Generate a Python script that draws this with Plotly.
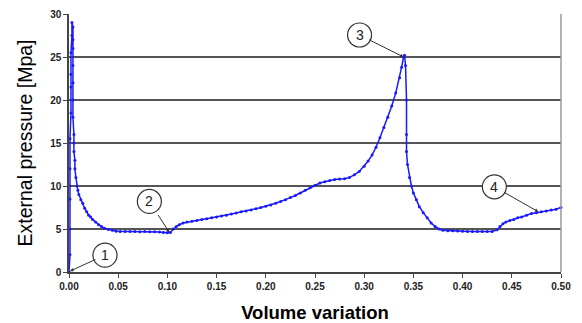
import plotly.graph_objects as go

volume = [0.000, 0.001, 0.001, 0.001, 0.001, 0.001, 0.002, 0.002, 0.002, 0.002, 0.003, 0.003,
          0.004, 0.004, 0.004, 0.004, 0.004, 0.004, 0.004, 0.005, 0.005, 0.005, 0.006, 0.006,
          0.007, 0.008, 0.009, 0.010, 0.012, 0.014, 0.016, 0.018, 0.020, 0.022, 0.024, 0.027,
          0.030, 0.033, 0.036, 0.040, 0.044, 0.048, 0.052, 0.057, 0.062, 0.067, 0.072, 0.077,
          0.082, 0.087, 0.092, 0.096, 0.100, 0.103, 0.106, 0.109, 0.112, 0.116, 0.120, 0.125,
          0.130, 0.135, 0.140, 0.145, 0.150, 0.155, 0.160, 0.165, 0.170, 0.175, 0.180, 0.185,
          0.190, 0.195, 0.200, 0.205, 0.210, 0.215, 0.220, 0.225, 0.230, 0.235, 0.240, 0.245,
          0.250, 0.255, 0.260, 0.265, 0.270, 0.275, 0.280, 0.285, 0.290, 0.295, 0.300, 0.304,
          0.308, 0.312, 0.316, 0.320, 0.324, 0.328, 0.332, 0.336, 0.338, 0.340, 0.341,
          0.342, 0.343, 0.343, 0.343, 0.344, 0.346, 0.348, 0.350, 0.353, 0.356, 0.360, 0.364,
          0.368, 0.372, 0.376, 0.380, 0.385, 0.390, 0.395, 0.400, 0.405, 0.410, 0.415, 0.420,
          0.425, 0.430, 0.435, 0.438, 0.441, 0.444, 0.448, 0.452, 0.456, 0.460, 0.465, 0.470,
          0.475, 0.480, 0.485, 0.490, 0.495, 0.500]
pressure = [0.0, 2.0, 5.0, 8.5, 12.0, 15.5, 18.5, 21.5, 23.0, 25.5, 27.5, 29.0,
            28.5, 27.0, 26.0, 24.0, 22.0, 20.0, 18.0, 16.0, 15.0, 14.0, 13.0, 12.0,
            11.0, 10.0, 9.5, 9.0, 8.4, 8.0, 7.4, 7.0, 6.6, 6.4, 6.1, 5.8,
            5.5, 5.3, 5.1, 4.95, 4.85, 4.75, 4.7, 4.7, 4.7, 4.7, 4.68, 4.7,
            4.68, 4.68, 4.65, 4.6, 4.55, 4.6, 5.0, 5.3, 5.5, 5.7, 5.8, 5.9,
            6.0, 6.1, 6.2, 6.3, 6.4, 6.5, 6.6, 6.75, 6.85, 7.0, 7.1, 7.2,
            7.35, 7.5, 7.65, 7.8, 8.0, 8.2, 8.4, 8.65, 8.9, 9.2, 9.5, 9.8,
            10.1, 10.35, 10.5, 10.65, 10.75, 10.8, 10.85, 11.0, 11.3, 11.7, 12.3, 12.9,
            13.6, 14.5, 15.6, 16.8, 18.0, 19.3, 20.8, 22.6, 23.8, 25.0, 25.2,
            24.0, 20.0, 16.0, 14.0, 12.5, 11.0, 10.0, 9.2, 8.4, 7.6, 6.9, 6.3,
            5.7, 5.3, 5.0, 4.85, 4.8, 4.8, 4.78, 4.75, 4.7, 4.7, 4.7, 4.7,
            4.7, 4.72, 4.9, 5.3, 5.6, 5.8, 6.0, 6.1, 6.3, 6.4, 6.6, 6.8,
            6.9, 7.0, 7.1, 7.2, 7.3, 7.5]

x_ticks = [0.00, 0.05, 0.10, 0.15, 0.20, 0.25, 0.30, 0.35, 0.40, 0.45, 0.50]
y_ticks = [0, 5, 10, 15, 20, 25, 30]

# callouts: label, target point (x, y), offset of circle center in pixels
callout_labels = ["1", "2", "3", "4"]
callout_x = [0.001, 0.102, 0.340, 0.477]
callout_y = [0.1, 4.6, 25.0, 7.0]
callout_dx = [35, -20, -44, -44]
callout_dy = [-16, -31, -22, -25]

fig = go.Figure()
fig.add_trace(go.Scatter(
    x=volume, y=pressure, mode="lines+markers",
    line=dict(color="#1a1aff", width=1.5),
    marker=dict(color="#1a1aff", size=3, symbol="circle"),
    showlegend=False, cliponaxis=False,
))

for lab, px, py, dx, dy in zip(callout_labels, callout_x, callout_y, callout_dx, callout_dy):
    fig.add_shape(type="circle", xref="x", yref="y", xsizemode="pixel", ysizemode="pixel",
                  xanchor=px, yanchor=py,
                  x0=dx - 12, x1=dx + 12, y0=-dy - 12, y1=-dy + 12,
                  line=dict(color="#333333", width=1.2), fillcolor="white", layer="above")
    fig.add_annotation(x=px, y=py, ax=dx, ay=dy, text=lab, showarrow=True,
                       arrowhead=2, arrowsize=0.7, arrowwidth=1, arrowcolor="#333333",
                       font=dict(family="Arial, Liberation Sans", size=14, color="#222"),
                       borderpad=5, standoff=0)

fig.update_layout(
    width=582, height=323,
    margin=dict(l=69, r=21, t=14, b=51),
    paper_bgcolor="white", plot_bgcolor="white",
    font=dict(family="Arial, Liberation Sans", color="black"),
)
fig.update_xaxes(
    range=[0, 0.5], tickvals=x_ticks, tickformat=".2f", automargin=False,
    ticks="outside", ticklen=4, tickcolor="#444",
    showgrid=False, showline=True, linecolor="#444", linewidth=1.5, mirror=False,
    zeroline=False,
    tickfont=dict(size=10, family="Arial, Liberation Sans", color="#222", weight="bold"),
    title=dict(text="<b>Volume variation</b>", font=dict(size=18.5), standoff=15),
)
fig.update_yaxes(
    range=[0, 30], tickvals=y_ticks, automargin=False,
    ticks="outside", ticklen=4, tickcolor="#444",
    showgrid=True, gridcolor="#555", gridwidth=1.5,
    showline=True, linecolor="#444", linewidth=1.5, zeroline=False,
    tickfont=dict(size=10, family="Arial, Liberation Sans", color="#222", weight="bold"),
    title=dict(text="External pressure [Mpa]", font=dict(size=19.5), standoff=12),
)
# right border
fig.add_shape(type="line", xref="paper", yref="paper", x0=1, x1=1, y0=0, y1=1,
              line=dict(color="#999", width=1.5))

fig.write_html("out.html")
